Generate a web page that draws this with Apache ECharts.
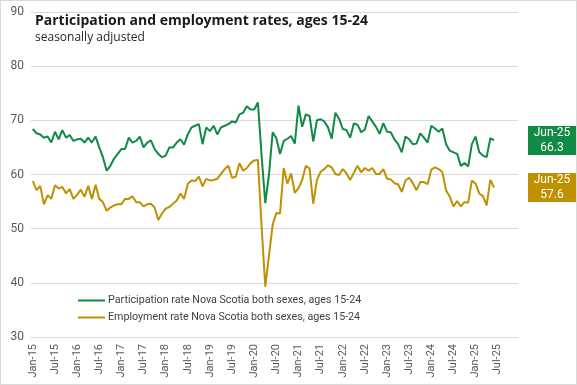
<!DOCTYPE html>
<html><head><meta charset="utf-8">
<script src="https://cdn.jsdelivr.net/npm/echarts@6/dist/echarts.min.js"></script>
<style>
html,body{margin:0;padding:0;background:#fff;}
#c{width:577px;height:385px;box-sizing:border-box;border:1px solid #d9d9d9;}
</style></head>
<body><div id="c"></div>
<script>
const monthNames = ['Jan','Feb','Mar','Apr','May','Jun','Jul','Aug','Sep','Oct','Nov','Dec'];
const years = ['15','16','17','18','19','20','21','22','23','24','25'];
const categories = [];
years.forEach(y => monthNames.forEach(m => categories.push(m + '-' + y)));

const participation = [
68.4,67.6,67.4,66.8,67.0,65.9,67.9,66.5,68.2,66.8,67.3,66.2,
66.5,66.6,65.9,66.8,65.9,67.0,65.0,63.2,60.7,61.6,62.9,63.8,
64.7,64.7,66.8,65.9,66.2,67.0,65.0,65.9,66.3,64.7,63.8,63.2,
63.5,65.0,65.0,65.9,66.5,65.5,67.4,68.7,69.0,69.3,65.6,68.7,
68.0,69.0,67.4,68.7,69.0,69.3,69.8,69.6,71.1,71.4,72.6,72.0,
72.0,73.3,63.5,54.7,60.0,67.8,66.7,63.8,66.2,66.6,67.1,65.7,
72.7,68.8,71.1,70.8,66.1,70.0,70.2,69.8,68.7,66.6,71.4,70.3,
68.4,68.2,66.8,69.4,69.2,67.8,68.3,70.8,69.8,68.8,67.5,69.5,
67.9,67.8,66.5,65.6,64.1,67.0,66.5,65.6,65.7,67.6,66.8,65.9,
69.0,68.5,67.9,68.5,65.6,64.4,64.1,63.8,61.6,62.1,61.5,65.6,
67.0,64.1,63.5,63.2,66.7,66.3
];
const employment = [
58.8,57.1,57.9,54.5,56.2,55.5,58.0,57.4,57.7,56.5,57.3,55.5,
56.3,57.2,55.9,57.9,55.5,58.1,55.5,54.9,53.3,53.9,54.3,54.5,
54.5,55.5,55.5,56.0,54.9,54.9,54.1,54.5,54.6,53.9,51.6,52.8,
53.7,54.0,54.6,55.2,56.5,55.5,58.3,58.9,58.8,59.6,57.8,59.2,
58.9,59.0,59.2,60.1,61.0,61.6,59.4,59.6,62.1,60.7,61.2,62.1,
62.6,62.7,50.5,39.3,45.0,50.7,52.9,52.8,61.2,58.3,60.2,56.6,
57.5,59.0,61.6,61.1,54.6,59.0,60.5,61.0,61.7,61.3,60.1,59.9,
61.0,60.2,59.0,60.3,61.6,60.4,61.2,60.7,61.2,60.1,60.1,61.0,
59.2,59.1,58.4,58.2,56.8,58.9,59.4,58.4,57.1,58.6,58.6,58.2,
60.9,61.3,61.0,60.4,57.1,55.9,54.1,55.1,54.1,54.9,54.8,58.9,
58.3,56.5,56.0,54.3,59.0,57.6
];
const seriesNames = ['Participation rate Nova Scotia both sexes, ages 15-24','Employment rate Nova Scotia both sexes, ages 15-24'];
const colors = ['#108a45','#bf9000'];

const chart = echarts.init(document.getElementById('c'), null, {renderer:'canvas'});
function mk(name, data, color){
  return {
    name, type:'line', data, showSymbol:false, symbol:'none',
    lineStyle:{color, width:2}, itemStyle:{color},
    animation:false,
    endLabel:{
      show:true, distance:58,
      formatter: p => p.name + '\n' + p.value,
      backgroundColor: color, color:'#fff',
      fontFamily:'Roboto', fontSize:12, lineHeight:14.5,
      width:48, padding:[0,0,0,0], align:'center'
    }
  };
}
chart.setOption({
  animation:false,
  color: colors,
  title:{
    text:'Participation and employment rates, ages 15-24',
    subtext:'seasonally adjusted',
    left:29, top:8, itemGap:4,
    textStyle:{fontFamily:'Open Sans', fontWeight:'bold', fontSize:14, color:'#1a1a1a'},
    subtextStyle:{fontFamily:'Open Sans', fontSize:12, color:'#262626'}
  },
  legend:{
    orient:'vertical', left:72, top:289, itemGap:6,
    icon:'rect', itemWidth:27, itemHeight:2,
    textStyle:{fontFamily:'Roboto', fontSize:10.7, color:'#404040', padding:[0,0,0,-2]},
    data: seriesNames
  },
  grid:{left:30, right:58, top:11, bottom:47, containLabel:false},
  xAxis:{
    type:'category', data:categories, boundaryGap:true,
    axisLine:{lineStyle:{color:'#d9d9d9'}},
    axisTick:{show:false},
    axisLabel:{interval:5, rotate:90, fontFamily:'Roboto', fontSize:11, color:'#595959', margin:7}
  },
  yAxis:{
    type:'value', min:30, max:90, interval:10,
    axisLine:{show:false}, axisTick:{show:false},
    splitLine:{lineStyle:{color:'#d9d9d9'}},
    axisLabel:{fontFamily:'Roboto', fontSize:12, color:'#595959', margin:7}
  },
  series:[mk(seriesNames[0], participation, colors[0]), mk(seriesNames[1], employment, colors[1])]
});
</script></body></html>
